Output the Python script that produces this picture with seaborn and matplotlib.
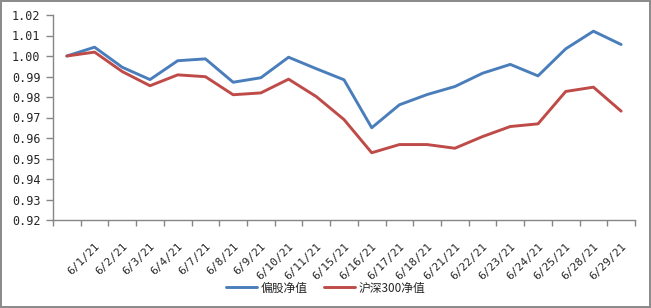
import numpy as np
import pandas as pd
import matplotlib
matplotlib.use("Agg")
import matplotlib.pyplot as plt
import seaborn as sns

# ------------------------------
# Data
# ------------------------------
dates = ['', '6/1/21', '6/2/21', '6/3/21', '6/4/21', '6/7/21', '6/8/21', '6/9/21',
         '6/10/21', '6/11/21', '6/15/21', '6/16/21', '6/17/21', '6/18/21', '6/21/21',
         '6/22/21', '6/23/21', '6/24/21', '6/25/21', '6/28/21', '6/29/21']
fund_nav = [1.0000, 1.0043, 0.9945, 0.9885, 0.9977, 0.9986, 0.9872, 0.9894,
            0.9994, 0.9938, 0.9884, 0.9650, 0.9762, 0.9812, 0.9851, 0.9916,
            0.9959, 0.9903, 1.0035, 1.0121, 1.0056]
hs300_nav = [1.0000, 1.0019, 0.9924, 0.9855, 0.9908, 0.9899, 0.9811, 0.9820,
             0.9887, 0.9802, 0.9690, 0.9528, 0.9568, 0.9568, 0.9550, 0.9607,
             0.9656, 0.9669, 0.9827, 0.9848, 0.9731]
series_names = ['偏股净值', '沪深300净值']
colors = ['#4A7EBB', '#BE4B48']

df = pd.DataFrame({
    'pos': list(range(len(dates))) * 2,
    'value': fund_nav + hs300_nav,
    'series': [series_names[0]] * len(dates) + [series_names[1]] * len(dates),
})

# ------------------------------
# Plot
# ------------------------------
sns.set_style('white')
plt.rcParams['font.family'] = ['DejaVu Sans Mono', 'Noto Sans CJK SC']

fig = plt.figure(figsize=(6.51, 3.08), dpi=100, linewidth=1.5, edgecolor='#8c8c8c')
ax = fig.add_axes([53 / 651, 1 - 220 / 308, (635 - 53) / 651, (220 - 15) / 308])

sns.lineplot(data=df, x='pos', y='value', hue='series', palette=colors,
             linewidth=2.1, ax=ax)

ax.set_xlim(-0.5, len(dates) - 0.5)
ax.set_ylim(0.92, 1.02)
yticks = np.arange(0.92, 1.0201, 0.01)
ax.set_yticks(yticks)
ax.set_yticklabels([f'{v:.2f}' for v in yticks], fontsize=8.5)

# category boundaries get tick marks, labels sit at the centres
ax.set_xticks(np.arange(-0.5, len(dates), 1.0))
ax.set_xticklabels([])
ax.set_xticks(np.arange(len(dates)), minor=True)
ax.set_xticklabels(dates, minor=True, rotation=45, ha='right',
                   rotation_mode='anchor', fontsize=8)
ax.tick_params(axis='x', which='minor', length=0, pad=15)
ax.tick_params(axis='x', which='major', direction='out', length=4, width=1,
               color='#868686', bottom=True)
ax.tick_params(axis='y', direction='out', length=5, width=1, color='#868686',
               left=True, pad=4)
ax.set_xlabel('')
ax.set_ylabel('')

for side in ['top', 'right']:
    ax.spines[side].set_visible(False)
for side in ['left', 'bottom']:
    ax.spines[side].set_color('#868686')
    ax.spines[side].set_linewidth(1)

handles, labels = ax.get_legend_handles_labels()
ax.get_legend().remove()
fig.legend(handles, labels, loc='center', bbox_to_anchor=(0.5, 1 - 288 / 308),
           ncol=2, frameon=False, handlelength=2.6,
           handletextpad=0.3, columnspacing=1.4,
           prop={'family': ['Noto Sans CJK SC', 'DejaVu Sans'], 'size': 8.5})

fig.savefig('out.png', dpi=100)
